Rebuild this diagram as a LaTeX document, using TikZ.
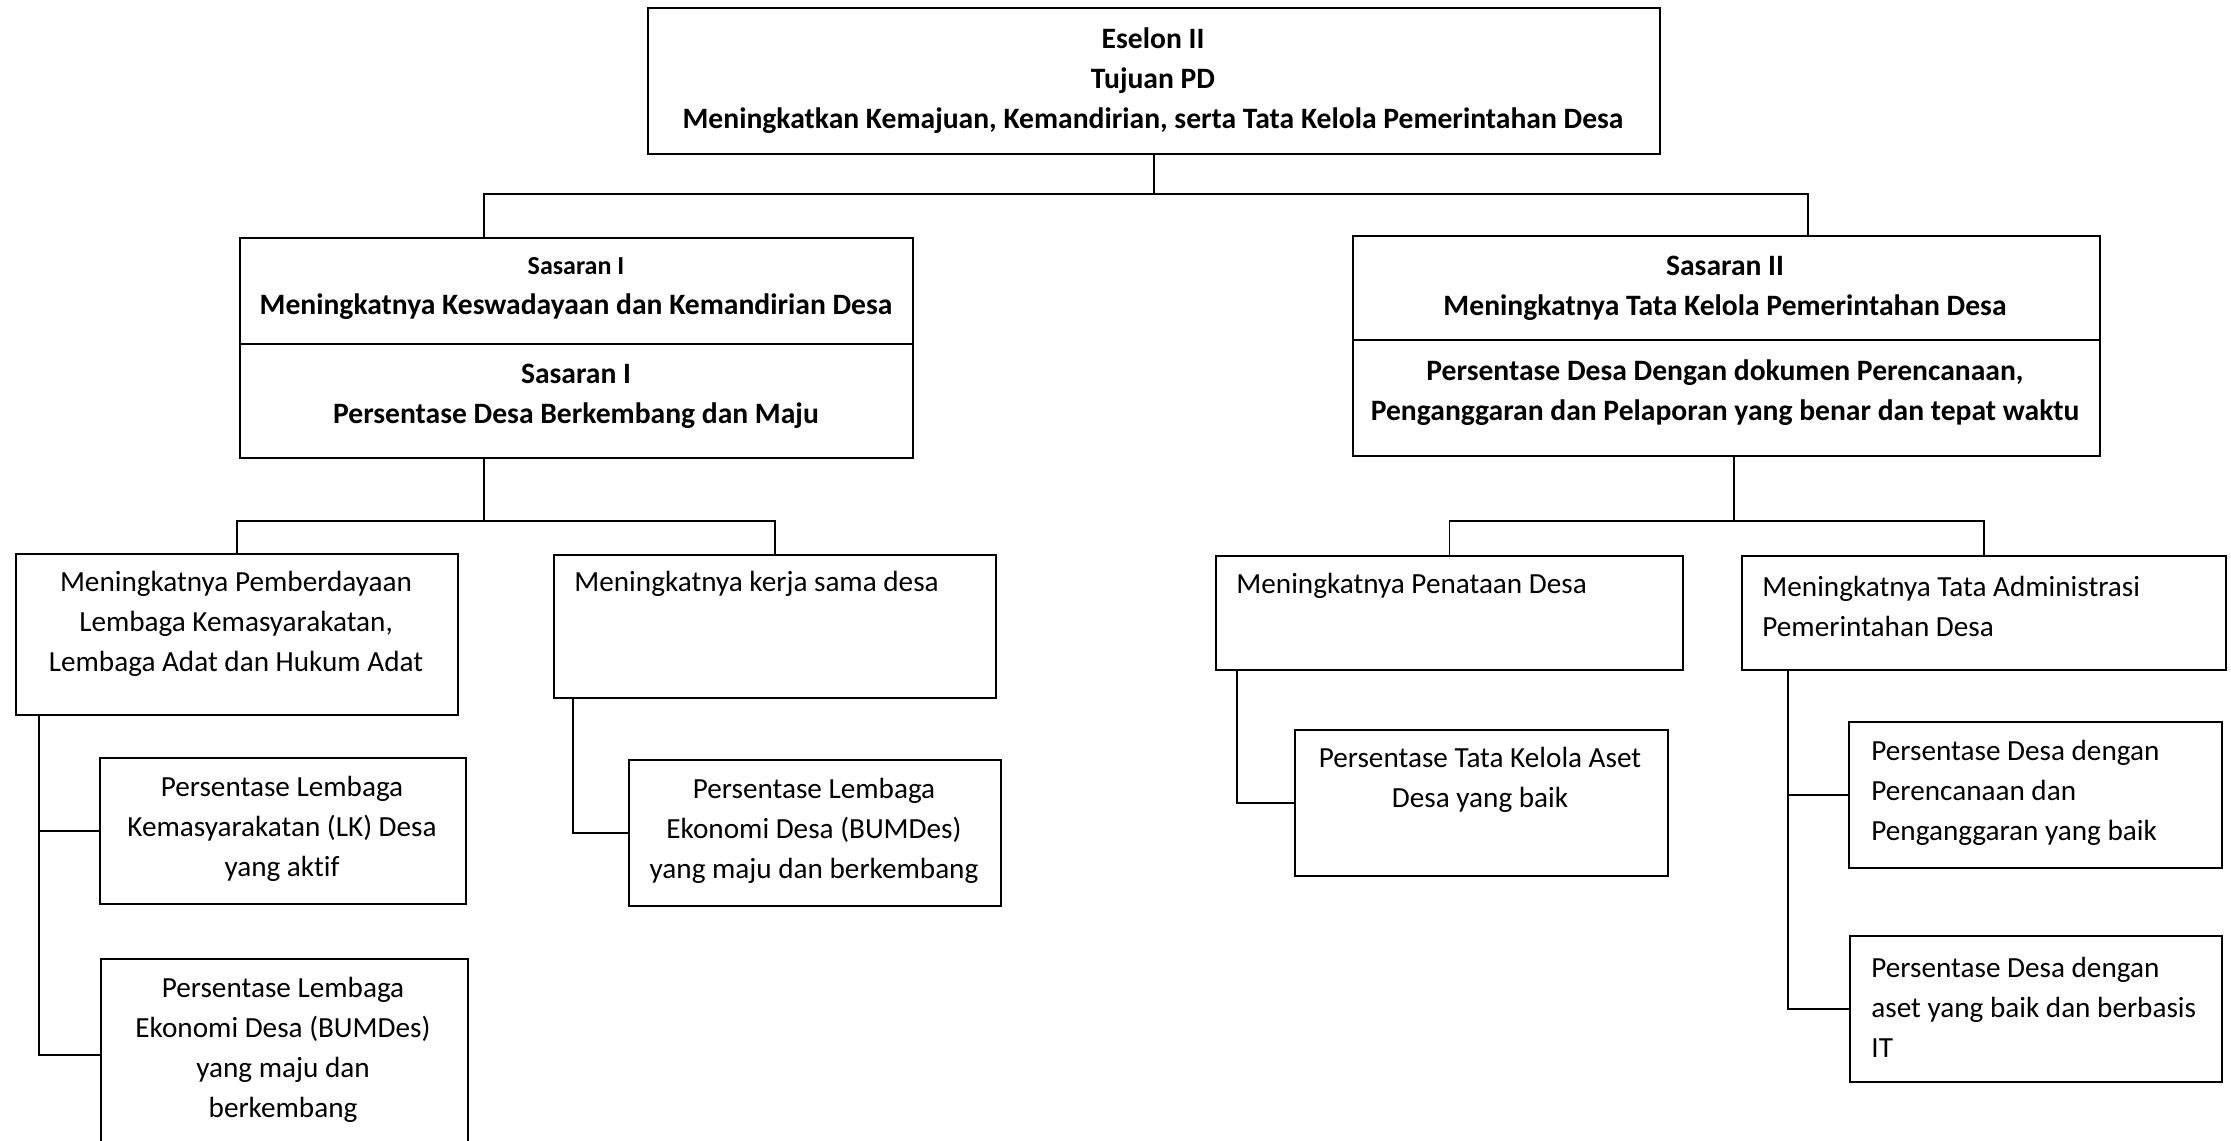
\documentclass[tikz,border=0pt]{standalone}
\usepackage{fontspec}
\setmainfont{Carlito}[Ligatures=NoCommon]
\begin{document}
\begin{tikzpicture}[x=0.5pt,y=-0.5pt,
  box/.style={draw, line width=0.9pt, inner sep=0pt, anchor=north west},
  txt/.style={inner sep=0pt, font=\fontsize{14.6}{20}\selectfont, align=center},
  ltxt/.style={inner sep=0pt, font=\fontsize{14.6}{20}\selectfont, align=left, anchor=west},
  btxt/.style={txt, font=\bfseries\fontsize{14.8}{20}\selectfont},
  conn/.style={line width=0.9pt}]
\useasboundingbox (0,0) rectangle (2231,1140);
\clip (0,0) rectangle (2231,1140);
\fill[white] (0,0) rectangle (2231,1140);

% boxes
\node[box, minimum width=506pt, minimum height=73pt] (top) at (647,7) {};
\node[box, minimum width=336.5pt, minimum height=53pt] (s1a) at (239,237) {};
\node[box, minimum width=336.5pt, minimum height=57pt] (s1b) at (239,343) {};
\node[box, minimum width=373.5pt, minimum height=52pt] (s2a) at (1352,235) {};
\node[box, minimum width=373.5pt, minimum height=58pt] (s2b) at (1352,339) {};
\node[box, minimum width=221pt, minimum height=80.5pt] (L2a) at (15,553) {};
\node[box, minimum width=221pt, minimum height=71.5pt] (L2b) at (553,554) {};
\node[box, minimum width=233.5pt, minimum height=57pt] (L2c) at (1215,555) {};
\node[box, minimum width=242pt, minimum height=57pt] (L2d) at (1741,555) {};
\node[box, minimum width=183pt, minimum height=73pt] (L3a) at (99,757) {};
\node[box, minimum width=183.5pt, minimum height=96pt] (L3b) at (100,958) {};
\node[box, minimum width=186pt, minimum height=73pt] (L3c) at (628,759) {};
\node[box, minimum width=186.5pt, minimum height=73pt] (L3d) at (1294,729) {};
\node[box, minimum width=186.5pt, minimum height=73pt] (L3e) at (1848,721) {};
\node[box, minimum width=186pt, minimum height=73pt] (L3f) at (1849,935) {};

% texts
\node[btxt] (ttop) at (1153,81) {Eselon II\\Tujuan PD\\Meningkatkan Kemajuan, Kemandirian, serta Tata Kelola Pemerintahan Desa};
\node[btxt] (ts1a) at (576,288) {{\fontsize{13}{20}\selectfont Sasaran I}\\Meningkatnya Keswadayaan dan Kemandirian Desa};
\node[btxt] (ts1b) at (576,396) {Sasaran I\\Persentase Desa Berkembang dan Maju};
\node[btxt] (ts2a) at (1725,288) {Sasaran II\\Meningkatnya Tata Kelola Pemerintahan Desa};
\node[btxt] (ts2b) at (1725,393) {Persentase Desa Dengan dokumen Perencanaan,\\Penganggaran dan Pelaporan yang benar dan tepat waktu};
\node[txt] (tL2a) at (236,624) {Meningkatnya Pemberdayaan\\Lembaga Kemasyarakatan,\\Lembaga Adat dan Hukum Adat};
\node[ltxt] (tL2b) at (574,584) {Meningkatnya kerja sama desa};
\node[ltxt] (tL2c) at (1236,586) {Meningkatnya Penataan Desa};
\node[ltxt] (tL2d) at (1762,606) {Meningkatnya Tata Administrasi\\Pemerintahan Desa};
\node[txt] (tL3a) at (282,829) {Persentase Lembaga\\Kemasyarakatan (LK) Desa\\yang aktif};
\node[txt] (tL3b) at (283,1050) {Persentase Lembaga\\Ekonomi Desa (BUMDes)\\yang maju dan\\berkembang};
\node[txt] (tL3c) at (814,831) {Persentase Lembaga\\Ekonomi Desa (BUMDes)\\yang maju dan berkembang};
\node[txt] (tL3d) at (1480,780) {Persentase Tata Kelola Aset\\Desa yang baik};
\node[ltxt] (tL3e) at (1871,793) {Persentase Desa dengan\\Perencanaan dan\\Penganggaran yang baik};
\node[ltxt] (tL3f) at (1871,1007) {Persentase Desa dengan\\aset yang baik dan berbasis\\IT};

% connectors
\coordinate (j) at (1152,194);
\coordinate (bL) at (484,194);
\coordinate (bR) at (1808,194);
\draw[conn] (top.south) -- (top.south |- j);
\draw[conn] (bL |- s1a.north) -- (bL) -- (bR) -- (bR |- s2a.north);

\coordinate (cL) at (484,521);
\coordinate (cR) at (1734,521);
\draw[conn] (cL |- s1b.south) -- (cL);
\draw[conn] (L2a.north) |- (cL) -| (L2b.north);
\draw[conn] (cR |- s2b.south) -- (cR);
\draw[conn] (L2c.north) |- (cR) -| (L2d.north);

\coordinate (sA) at (39,0);
\coordinate (sB) at (573,0);
\coordinate (sC) at (1237,0);
\coordinate (sD) at (1788,0);
\draw[conn] (sA |- L2a.south) |- (L3a.west);
\draw[conn] (sA |- L2a.south) |- (L3b.west);
\draw[conn] (sB |- L2b.south) |- (L3c.west);
\draw[conn] (sC |- L2c.south) |- (L3d.west);
\draw[conn] (sD |- L2d.south) |- (L3e.west);
\draw[conn] (sD |- L2d.south) |- (L3f.west);
\end{tikzpicture}
\end{document}
